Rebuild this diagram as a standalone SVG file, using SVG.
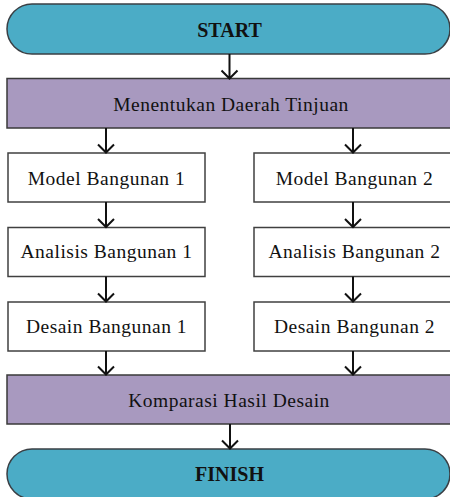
<svg xmlns="http://www.w3.org/2000/svg" width="450" height="497" viewBox="0 0 450 497">
<defs>
<style>
.pill{fill:#4BACC6;stroke:#3a3f44;stroke-width:1.5}
.band{fill:#A899BF;stroke:#3a3a3a;stroke-width:1.5}
.box{fill:#ffffff;stroke:#404040;stroke-width:1.5}
text{font-family:'Liberation Serif','Times New Roman',Times,serif;fill:#111;text-anchor:middle}
.t{font-size:19.5px;letter-spacing:0.5px}
.tb{font-size:20px;font-weight:bold}
.c{stroke:#111;stroke-width:2;fill:none}
</style>
</defs>
<rect width="450" height="497" fill="#ffffff"/>
<g id="start"><rect class="pill" x="7" y="4" width="443" height="50" rx="25" ry="25"/><text class="tb" x="229.5" y="36.7" font-family="Liberation Serif, serif">START</text></g>
<g id="tinjauan"><rect class="band" x="7" y="78.5" width="450" height="49.5"/><text class="t" x="231" y="111" font-family="Liberation Serif, serif">Menentukan Daerah Tinjuan</text></g>
<g id="model1"><rect class="box" x="8" y="153" width="197" height="49"/><text class="t" x="106.5" y="185" font-family="Liberation Serif, serif">Model Bangunan 1</text></g>
<g id="model2"><rect class="box" x="254" y="153" width="205" height="49"/><text class="t" x="354.5" y="185" font-family="Liberation Serif, serif">Model Bangunan 2</text></g>
<g id="analisis1"><rect class="box" x="8" y="227.5" width="197" height="49"/><text class="t" x="106.5" y="258.3" font-family="Liberation Serif, serif">Analisis Bangunan 1</text></g>
<g id="analisis2"><rect class="box" x="254" y="227.5" width="205" height="49"/><text class="t" x="354.5" y="258.3" font-family="Liberation Serif, serif">Analisis Bangunan 2</text></g>
<g id="desain1"><rect class="box" x="8" y="302" width="197" height="49"/><text class="t" x="106.5" y="332.7" font-family="Liberation Serif, serif">Desain Bangunan 1</text></g>
<g id="desain2"><rect class="box" x="254" y="302" width="205" height="49"/><text class="t" x="354.5" y="332.7" font-family="Liberation Serif, serif">Desain Bangunan 2</text></g>
<g id="komparasi"><rect class="band" x="7" y="375" width="450" height="49"/><text class="t" x="229" y="406.7" font-family="Liberation Serif, serif">Komparasi Hasil Desain</text></g>
<g id="finish"><rect class="pill" x="7" y="449" width="443" height="50" rx="25" ry="25"/><text class="tb" x="229.5" y="480.7" font-family="Liberation Serif, serif">FINISH</text></g>
<g id="connectors">
<path class="c" d="M229.5 54V78M221.5 70.5L229.5 78.5L237.5 70.5"/>
<path class="c" d="M106 128V152M98 144.5L106 152.5L114 144.5"/>
<path class="c" d="M353 128V152M345 144.5L353 152.5L361 144.5"/>
<path class="c" d="M106 202V227M98 219L106 227L114 219"/>
<path class="c" d="M353 202V227M345 219L353 227L361 219"/>
<path class="c" d="M106 276.5V301.5M98 293.5L106 301.5L114 293.5"/>
<path class="c" d="M353 276.5V301.5M345 293.5L353 301.5L361 293.5"/>
<path class="c" d="M106 351V374.5M98 366.5L106 374.5L114 366.5"/>
<path class="c" d="M353 351V374.5M345 366.5L353 374.5L361 366.5"/>
<path class="c" d="M230 424V448.5M222 440.5L230 448.5L238 440.5"/>
</g>
</svg>
